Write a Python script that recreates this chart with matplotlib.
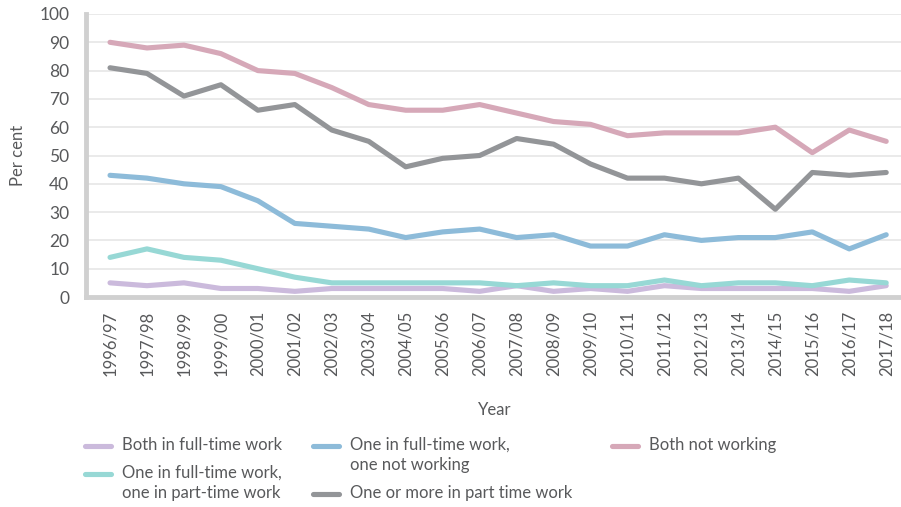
import matplotlib
matplotlib.use("Agg")
import matplotlib.pyplot as plt
from matplotlib.lines import Line2D

# Data
years = ["1996/97", "1997/98", "1998/99", "1999/00", "2000/01", "2001/02", "2002/03",
         "2003/04", "2004/05", "2005/06", "2006/07", "2007/08", "2008/09", "2009/10",
         "2010/11", "2011/12", "2012/13", "2013/14", "2014/15", "2015/16", "2016/17",
         "2017/18"]

both_ft = [5, 4, 5, 3, 3, 2, 3, 3, 3, 3, 2, 4, 2, 3, 2, 4, 3, 3, 3, 3, 2, 4]
ft_pt = [14, 17, 14, 13, 10, 7, 5, 5, 5, 5, 5, 4, 5, 4, 4, 6, 4, 5, 5, 4, 6, 5]
ft_not = [43, 42, 40, 39, 34, 26, 25, 24, 21, 23, 24, 21, 22, 18, 18, 22, 20, 21, 21, 23, 17, 22]
part_time = [81, 79, 71, 75, 66, 68, 59, 55, 46, 49, 50, 56, 54, 47, 42, 42, 40, 42, 31, 44, 43, 44]
both_not = [90, 88, 89, 86, 80, 79, 74, 68, 66, 66, 68, 65, 62, 61, 57, 58, 58, 58, 60, 51, 59, 55]

labels = ["Both in full-time work",
          "One in full-time work,\none in part-time work",
          "One in full-time work,\none not working",
          "One or more in part time work",
          "Both not working"]
colours = ["#cbbadc", "#97d8d5", "#8dbbd9", "#939598", "#d6a8b8"]

plt.rcParams['font.family'] = ['Lato', 'DejaVu Sans']
txt = "#58595b"

W, H = 901, 507
fig = plt.figure(figsize=(W / 100, H / 100), dpi=100)
ax = fig.add_axes([86 / W, 1 - 297 / H, (W - 86) / W, (297 - 14) / H])

series = [both_ft, ft_pt, ft_not, part_time, both_not]
x = list(range(len(years)))
for vals, col in zip(series, colours):
    ax.plot(x, vals, color=col, lw=3.7, solid_capstyle='round', solid_joinstyle='round', zorder=3)

ax.set_xlim(-0.65, len(years) - 1 + 0.4)
ax.set_ylim(0, 100)
ax.set_yticks(range(0, 101, 10))
ax.set_xticks(x)
ax.set_xticklabels(years, rotation=90, fontsize=12, color=txt)
ax.tick_params(axis='y', labelsize=12.5, colors=txt, length=0, pad=12)
ax.tick_params(axis='x', length=0, pad=10)
ax.grid(axis='y', color='#e8e8e8', lw=1.3, zorder=0)
ax.set_axisbelow(True)

for s in ['top', 'right']:
    ax.spines[s].set_visible(False)
for s in ['left', 'bottom']:
    ax.spines[s].set_color('#d0d0d0')
    ax.spines[s].set_linewidth(3.5)

fig.text(18 / W, 1 - 155 / H, "Per cent", rotation=90, ha='center', va='center', fontsize=12, color=txt)
fig.text(495 / W, 1 - 410 / H, "Year", ha='center', va='center', fontsize=12, color=txt)

# legend drawn by hand to keep the reference layout
leg_pos = [(85, 446), (85, 474), (313, 446), (313, 494), (612, 446)]
for (lx, ly), lab, col in zip(leg_pos, labels, colours):
    yy = 1 - ly / H
    fig.add_artist(Line2D([lx / W, (lx + 26) / W], [yy, yy], color=col, lw=3.7,
                          solid_capstyle='round', transform=fig.transFigure))
    fig.text((lx + 37) / W, yy + 9 / H, lab, ha='left', va='top', fontsize=12,
             color=txt, linespacing=1.3)

fig.savefig("out.png", dpi=100)
